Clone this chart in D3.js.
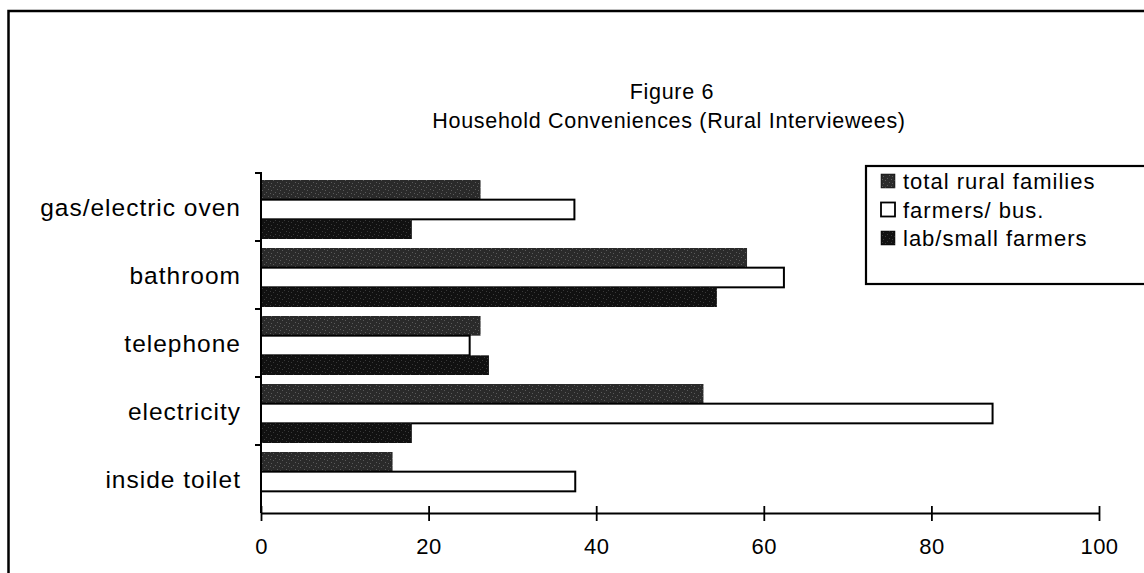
<!DOCTYPE html>
<html>
<head>
<meta charset="utf-8">
<script src="https://cdn.jsdelivr.net/npm/d3@7"></script>
<style>
  html, body { margin: 0; padding: 0; background: #fff; }
  svg { display: block; font-family: "Liberation Sans", Arial, Helvetica, sans-serif; }
</style>
</head>
<body>
<svg id="chart" width="1144" height="573"></svg>
<script>
// ---- data ----
const titleLines = ["Figure 6", "Household Conveniences (Rural Interviewees)"];
const categories = ["gas/electric oven", "bathroom", "telephone", "electricity", "inside toilet"];
const seriesNames = ["total rural families", "farmers/ bus.", "lab/small farmers"];
const totalRural = [26.2, 58.0, 26.2, 52.8, 15.7];
const farmersBus = [37.4, 62.4, 24.9, 87.3, 37.5];
const labSmall   = [18.0, 54.4, 27.2, 18.0, 0];
const xTicks = [0, 20, 40, 60, 80, 100];

const seriesValues = [totalRural, farmersBus, labSmall];

const svg = d3.select("#chart");

// texture patterns imitating the printed/scanned fills
const defs = svg.append("defs");
function speckle(id, base, dot) {
  const p = defs.append("pattern").attr("id", id).attr("patternUnits", "userSpaceOnUse")
    .attr("width", 9).attr("height", 7);
  p.append("rect").attr("width", 9).attr("height", 7).attr("fill", base);
  [[1,1],[5,3],[3,5],[7,0],[0,4]].forEach(([x,y]) =>
    p.append("rect").attr("x", x).attr("y", y).attr("width", 1).attr("height", 1).attr("fill", dot));
}
speckle("pTotal", "#2a2a2a", "#5a5a5a");
speckle("pLab", "#111111", "#3a3a3a");
const patternFills = ["url(#pTotal)", "#ffffff", "url(#pLab)"];

// outer frame (extends past right/bottom edges as in the scan)
svg.append("rect").attr("x", 8.5).attr("y", 11).attr("width", 1160).attr("height", 620)
  .attr("fill", "none").attr("stroke", "#000").attr("stroke-width", 2.5);

// title
svg.append("text").attr("x", 672).attr("y", 99).attr("text-anchor", "middle")
  .attr("font-size", 21.5).attr("letter-spacing", 0.7).text(titleLines[0]);
svg.append("text").attr("x", 669).attr("y", 128).attr("text-anchor", "middle")
  .attr("font-size", 21.5).attr("letter-spacing", 0.7).text(titleLines[1]);

// scales
const x = d3.scaleLinear().domain([0, 100]).range([261, 1099]);
const y = d3.scaleBand().domain(categories).range([173, 513]).paddingInner(0).paddingOuter(0);
const ySub = d3.scaleBand().domain(d3.range(seriesNames.length)).range([7, 66]).padding(0);

// bars
const g = svg.append("g");
categories.forEach((c, ci) => {
  seriesValues.forEach((vals, si) => {
    const v = vals[ci];
    if (!(v > 0)) return;
    g.append("rect")
      .attr("x", x(0))
      .attr("y", y(c) + ySub(si))
      .attr("width", x(v) - x(0))
      .attr("height", ySub.bandwidth())
      .attr("fill", patternFills[si])
      .attr("stroke", si === 1 ? "#000" : "none")
      .attr("stroke-width", si === 1 ? 2 : 0);
  });
});

// y axis: line + boundary ticks
svg.append("line").attr("x1", 261).attr("x2", 261).attr("y1", 172).attr("y2", 513)
  .attr("stroke", "#000").attr("stroke-width", 2);
const bounds = categories.map(c => y(c));
svg.selectAll(".ytick").data(bounds).enter().append("line")
  .attr("x1", 255).attr("x2", 262).attr("y1", d => d).attr("y2", d => d)
  .attr("stroke", "#000").attr("stroke-width", 2);
// category labels
svg.selectAll(".ylab").data(categories).enter().append("text")
  .attr("x", 241).attr("y", d => y(d) + y.bandwidth() / 2 + 9)
  .attr("text-anchor", "end").attr("font-size", 24.5).attr("letter-spacing", 1)
  .text(d => d);

// x axis
const xAxis = d3.axisBottom(x).tickValues(xTicks).tickSize(0).tickPadding(0).tickFormat(d3.format("d"));
const xg = svg.append("g").attr("transform", "translate(0,513)").call(xAxis);
xg.select(".domain").attr("stroke", "#000").attr("stroke-width", 2.2);
xg.selectAll(".tick line").remove();
xg.selectAll(".tick").append("line").attr("y1", -7).attr("y2", 8)
  .attr("stroke", "#000").attr("stroke-width", 1.8);
xg.selectAll(".tick text").attr("y", 41).attr("dy", 0).attr("fill", "#000")
  .attr("font-size", 22).attr("font-family", "Liberation Sans, Arial, sans-serif").attr("letter-spacing", 0.5);

// legend
const lg = svg.append("g");
lg.append("rect").attr("x", 866).attr("y", 166).attr("width", 320).attr("height", 118)
  .attr("fill", "#fff").attr("stroke", "#000").attr("stroke-width", 2.2);
const legendY = d3.scalePoint().domain(seriesNames).range([181, 238]);
seriesNames.forEach((s, i) => {
  lg.append("rect").attr("x", 881).attr("y", legendY(s) - 7).attr("width", 14).attr("height", 14)
    .attr("fill", patternFills[i]).attr("stroke", "#000").attr("stroke-width", i === 1 ? 1.8 : 0.5);
  lg.append("text").attr("x", 903).attr("y", legendY(s) + 8).attr("font-size", 22)
    .attr("letter-spacing", 1).text(s);
});
</script>
</body>
</html>
